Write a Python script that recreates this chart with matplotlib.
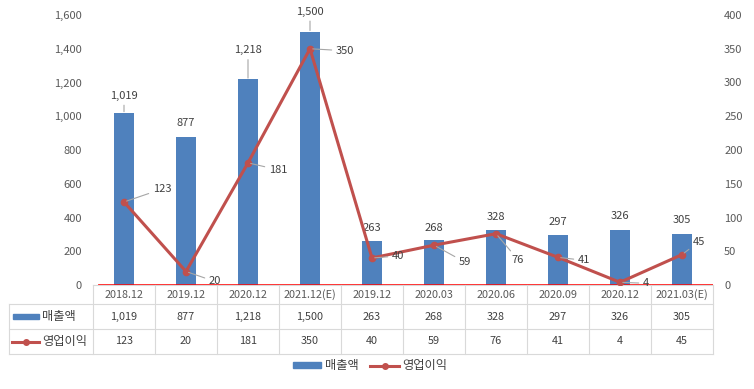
import matplotlib
matplotlib.use('Agg')
import matplotlib.pyplot as plt
from matplotlib.lines import Line2D
from matplotlib.patches import Patch, Rectangle

periods = ['2018.12', '2019.12', '2020.12', '2021.12(E)', '2019.12',
           '2020.03', '2020.06', '2020.09', '2020.12', '2021.03(E)']
sales = [1019, 877, 1218, 1500, 263, 268, 328, 297, 326, 305]
profit = [123, 20, 181, 350, 40, 59, 76, 41, 4, 45]
sales_name, profit_name = '매출액', '영업이익'

BLUE, RED, GRID, TXT = '#4f81bd', '#c0504d', '#d9d9d9', '#404040'
plt.rcParams.update({'font.family': ['Noto Sans CJK KR', 'DejaVu Sans'],
                     'font.size': 8, 'text.color': TXT,
                     'axes.labelcolor': TXT})

W, H = 754, 389
fig = plt.figure(figsize=(W / 100, H / 100), dpi=100)
fig.patch.set_facecolor('white')

ax = fig.add_axes([93 / W, 1 - 285 / H, 620 / W, 270 / H])
x = list(range(len(periods)))
ax.bar(x, sales, width=0.33, color=BLUE, zorder=2)
ax.set_xlim(-0.5, len(periods) - 0.5)
ax.set_ylim(0, 1600)
ax.set_yticks(range(0, 1601, 200))
ax.set_yticklabels([f'{v:,}' for v in range(0, 1601, 200)])
ax.set_xticks([])
for s in ['top', 'left', 'right']:
    ax.spines[s].set_visible(False)
ax.spines['bottom'].set_color(GRID)
ax.tick_params(axis='y', length=0, pad=8, labelcolor='#595959',
               labelsize=8)
ax.axhline(0, xmin=0.01, xmax=1, color='#ff0000', lw=1.3, alpha=0.85,
           zorder=3)

ax2 = ax.twinx()
ax2.plot(x, profit, '-o', color=RED, lw=2.2, ms=4.5, zorder=4)
ax2.set_ylim(0, 400)
ax2.set_yticks(range(0, 401, 50))
for s in ['top', 'left', 'right', 'bottom']:
    ax2.spines[s].set_visible(False)
ax2.tick_params(axis='y', length=0, pad=8, labelcolor='#595959',
                labelsize=8)

# bar labels (offsets in px above the bar top)
bar_dy = [17, 14, 29, 20, 13, 12, 13, 13, 14, 14]
bar_lead = [True, False, True, True, False, False, False, False, False,
            False]
for i, v in enumerate(sales):
    kw = {}
    if bar_lead[i]:
        kw['arrowprops'] = dict(arrowstyle='-', color='#a6a6a6', lw=0.8,
                                shrinkA=1, shrinkB=1)
    ax.annotate(f'{v:,}', xy=(i, v), xytext=(0, bar_dy[i] * 0.72),
                textcoords='offset points', ha='center', va='center',
                fontsize=8, color=TXT, zorder=5, **kw)

# line labels (offsets in px)
line_off = [(38, 13), (29, -10), (30, -7), (35, -2), (26, 2),
            (31, -17), (22, -26), (26, -3), (26, -1), (17, 13)]
for i, v in enumerate(profit):
    dx, dy = line_off[i]
    ax2.annotate(str(v), xy=(i, v), xytext=(dx * 0.72, dy * 0.72),
                 textcoords='offset points', ha='center', va='center',
                 fontsize=8, color=TXT, zorder=6,
                 arrowprops=dict(arrowstyle='-', color='#a6a6a6', lw=0.8,
                                 shrinkA=1, shrinkB=2))

# data table under the chart
tax = fig.add_axes([93 / W, 1 - 354 / H, 620 / W, 69 / H])
tax.set_xlim(-0.5, len(periods) - 0.5)
tax.set_ylim(69, 0)
tax.axis('off')
left = -0.5 - 84 / 62
rows = [0, 19, 44, 69]
for yy in rows[1:]:
    tax.plot([left, len(periods) - 0.5], [yy, yy], color=GRID, lw=0.8,
             clip_on=False)
tax.plot([left, left], [19, 69], color=GRID, lw=0.8, clip_on=False)
for k in range(len(periods) + 1):
    tax.plot([k - 0.5, k - 0.5], [0, 69], color=GRID, lw=0.8,
             clip_on=False)
for i, p in enumerate(periods):
    tax.text(i, 9.5, p, ha='center', va='center', fontsize=7.8,
             color='#595959')
    tax.text(i, 31.5, f'{sales[i]:,}', ha='center', va='center',
             fontsize=7.8, color=TXT)
    tax.text(i, 56.5, str(profit[i]), ha='center', va='center',
             fontsize=7.8, color=TXT)
u = 1 / 62
tax.add_patch(Rectangle((left + 4 * u, 29), 26 * u, 5, color=BLUE,
                        clip_on=False))
tax.text(left + 33 * u, 31.5, sales_name, ha='left', va='center',
         fontsize=8.8, color=TXT)
tax.plot([left + 3 * u, left + 30 * u], [56.5, 56.5], color=RED, lw=2.2,
         clip_on=False)
tax.plot([left + 17 * u], [56.5], 'o', color=RED, ms=4, clip_on=False)
tax.text(left + 33 * u, 56.5, profit_name, ha='left', va='center',
         fontsize=8.8, color=TXT)

handles = [Patch(color=BLUE, label=sales_name),
           Line2D([0], [0], color=RED, lw=2.2, marker='o', ms=4,
                  label=profit_name)]
fig.legend(handles=handles, loc='center', bbox_to_anchor=(370 / W, 1 - 366 / H),
           ncol=2, frameon=False, fontsize=8.8, handlelength=2.3,
           handleheight=0.45, columnspacing=1.0, handletextpad=0.3)

fig.savefig('out.png', dpi=100)
